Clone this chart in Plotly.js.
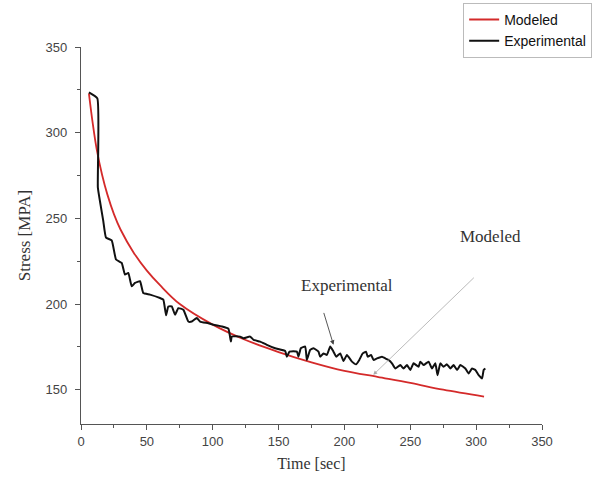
<!DOCTYPE html>
<html>
<head>
<meta charset="utf-8">
<script src="https://cdn.plot.ly/plotly-3.0.1.min.js"></script>
<style>html,body{margin:0;padding:0;background:#fff;}#chart{width:615px;height:482px;}</style>
</head>
<body>
<div id="chart"></div>
<script>
// Modeled (red) curve
const modeledTime = [6, 9, 12, 16, 20, 25, 30, 40, 50, 60, 75, 100, 125, 150, 175, 200, 225, 250, 275, 306];
const modeledStress = [323, 305, 290, 275.5, 264, 252.5, 243.5, 230, 219.5, 211, 200, 188, 179, 172, 166, 161, 157.5, 154, 150, 146];

// Experimental (black) curve
const expTime = [6, 12.4, 12.8, 14.4, 16.9, 19, 23.3, 26.6, 30.9, 33.4, 35.9, 38.5, 41, 44.8, 47.3, 52.4, 60, 62.5, 64.6, 66.3, 68.9, 71.4, 73.9, 77.7, 81.5, 84.1, 87.9, 90.4, 96.7, 100.5, 106.9, 111.9, 113.8, 114.5, 120.8, 123.3, 128.4, 131, 136, 141.1, 147.4, 155, 156.3, 158.3, 163.9, 165.1, 166.9, 170.2, 171.5, 174, 176.5, 180.3, 181.6, 184.1, 186.7, 189.2, 191.7, 193.8, 196.8, 199.3, 201.9, 205.7, 208.8, 211.3, 213.9, 216.4, 217.7, 220.2, 222.1, 224.7, 228.5, 231, 233.5, 236.1, 238.6, 242.4, 244.9, 247.5, 250, 252.5, 256.3, 257.6, 260.1, 263.9, 266.5, 269, 270.7, 272.8, 275.3, 277.9, 280.4, 282.9, 285.5, 288, 291.8, 294.3, 296.9, 299.4, 301.9, 304.5, 305.7, 307];
const expStress = [323.5, 320, 268, 260, 248.5, 238.7, 237.2, 226, 224, 217.2, 218.2, 210.4, 212.3, 213.3, 206.4, 205.5, 203.5, 202.6, 193.4, 198.6, 198.6, 193.8, 197.6, 196.7, 189.8, 189.8, 191.8, 189.8, 188.8, 187.9, 186.9, 185.6, 178.1, 181, 181, 180, 181, 179.1, 178.1, 176.2, 174.2, 172.6, 169.3, 172.2, 172.2, 169.3, 174.2, 175.2, 167.4, 173.2, 174.2, 172.2, 169.3, 171.2, 170.3, 175.2, 172.2, 169.3, 171.2, 166.8, 170.3, 166.4, 164.8, 167.4, 171.2, 172.2, 169.3, 170.3, 167.4, 168.3, 169.3, 168.3, 167.4, 165.4, 162.4, 164.4, 162.4, 164.4, 161.5, 165.4, 163.4, 166.4, 164.4, 166.4, 162.4, 165.4, 158.5, 165.4, 163.4, 164.8, 162.4, 164.4, 161.5, 164.4, 162.4, 159.5, 162.4, 161.5, 158.5, 156.6, 161.5, 162.4];

const xTicks = [0, 50, 100, 150, 200, 250, 300, 350];
const yTicks = [150, 200, 250, 300, 350];

const traces = [
  {x: modeledTime, y: modeledStress, name: 'Modeled', mode: 'lines',
   line: {color: '#d42a2a', width: 1.8, shape: 'spline', smoothing: 1}},
  {x: expTime, y: expStress, name: 'Experimental', mode: 'lines',
   line: {color: '#111111', width: 2, shape: 'spline', smoothing: 0.4}}
];

const serif = 'Liberation Serif, Times New Roman, serif';
const sans = 'Liberation Sans, Arial, sans-serif';

const layout = {
  width: 615, height: 482,
  margin: {l: 81, r: 73, t: 47, b: 58, autoexpand: false},
  paper_bgcolor: '#ffffff', plot_bgcolor: '#ffffff',
  showlegend: true,
  legend: {x: 0.829, y: 1.117, xanchor: 'left', yanchor: 'top',
           bordercolor: '#bbbbbb', borderwidth: 1, bgcolor: '#ffffff',
           font: {family: sans, size: 14, color: '#111'}, tracegroupgap: 0},
  xaxis: {range: [0, 350], tickvals: xTicks, showgrid: false, zeroline: false,
          showline: true, linecolor: '#555', linewidth: 1.2,
          ticks: 'outside', ticklen: 5, tickcolor: '#555', tickwidth: 1,
          minor: {dtick: 25, ticks: 'outside', ticklen: 3, tickcolor: '#555', showgrid: false},
          tickfont: {family: sans, size: 13, color: '#444'},
          title: {text: 'Time [sec]', font: {family: serif, size: 16, color: '#333'}, standoff: 10}},
  yaxis: {range: [130, 350], tickvals: yTicks, showgrid: false, zeroline: false,
          showline: true, linecolor: '#555', linewidth: 1.2,
          ticks: 'outside', ticklen: 5, tickcolor: '#555', tickwidth: 1, ticklabelstandoff: 5,
          minor: {tickvals: [175, 225, 275, 325], ticks: 'outside', ticklen: 3, tickcolor: '#555', showgrid: false},
          tickfont: {family: sans, size: 13, color: '#444'},
          title: {text: 'Stress [MPA]', font: {family: serif, size: 17, color: '#333'}, standoff: 10}},
  annotations: [
    {x: 202, y: 210.8, xref: 'x', yref: 'y', text: 'Experimental', showarrow: false,
     font: {family: serif, size: 17, color: '#333'}},
    {x: 191.7, y: 176.2, ax: 184, ay: 195.7, axref: 'x', ayref: 'y', xref: 'x', yref: 'y',
     text: '', showarrow: true, arrowhead: 2, arrowsize: 1, arrowwidth: 0.9, arrowcolor: '#444'},
    {x: 310.8, y: 239.3, xref: 'x', yref: 'y', text: 'Modeled', showarrow: false,
     font: {family: serif, size: 17, color: '#333'}},
    {x: 221.9, y: 158.7, ax: 299.4, ay: 216.2, axref: 'x', ayref: 'y', xref: 'x', yref: 'y',
     text: '', showarrow: true, arrowhead: 2, arrowsize: 1, arrowwidth: 0.8, arrowcolor: '#aaaaaa'}
  ]
};

Plotly.newPlot('chart', traces, layout, {displayModeBar: false, staticPlot: true});
</script>
</body>
</html>
